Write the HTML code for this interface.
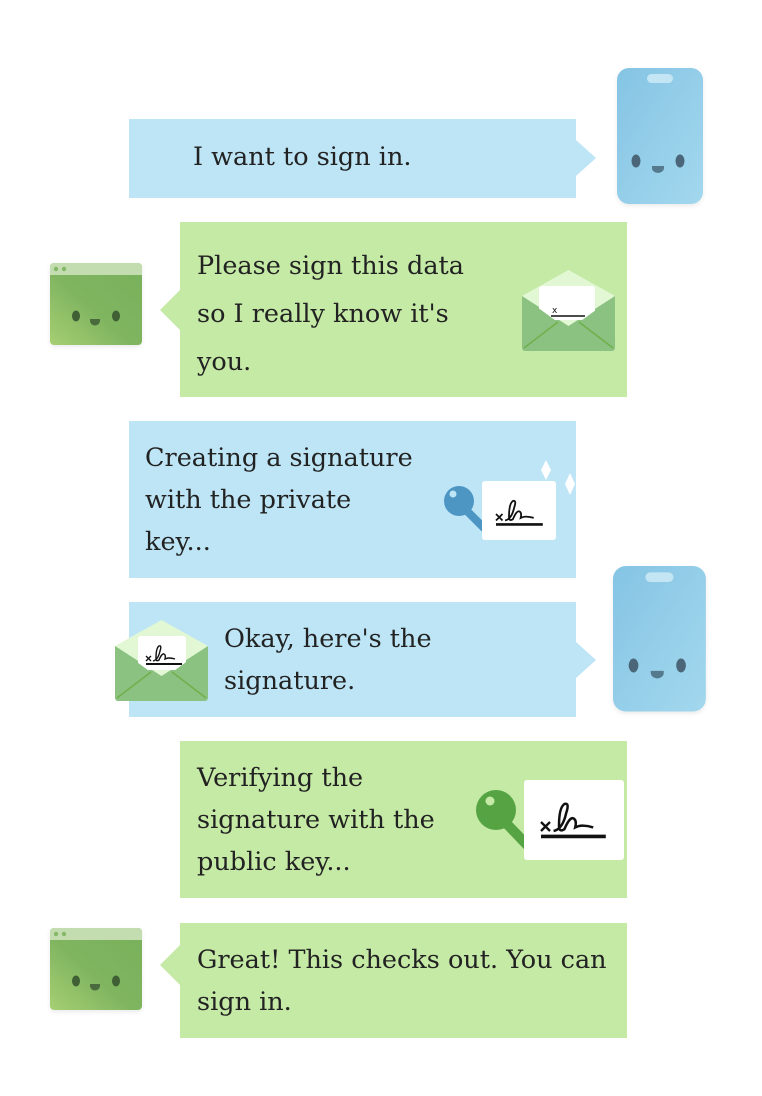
<!DOCTYPE html>
<html><head><meta charset="utf-8"><style>
html,body{margin:0;padding:0;background:#fff;}
body{width:762px;height:1096px;position:relative;overflow:hidden;}
svg{position:absolute;left:0;top:0;}
.t{position:absolute;font-family:"DejaVu Serif","Liberation Serif",serif;font-size:25.5px;color:#222;white-space:nowrap;letter-spacing:0;}
</style></head><body>
<svg width="762" height="1096" viewBox="0 0 762 1096">
<defs>
<linearGradient id="ph" x1="0" y1="0" x2="1" y2="1"><stop offset="0" stop-color="#85c4e4"/><stop offset="1" stop-color="#a3d8ee"/></linearGradient>
<linearGradient id="br" x1="0" y1="1" x2="1" y2="0"><stop offset="0" stop-color="#a6cf72"/><stop offset="0.45" stop-color="#80b560"/><stop offset="1" stop-color="#78b05a"/></linearGradient>
<filter id="sh" x="-20%" y="-20%" width="140%" height="140%"><feDropShadow dx="0" dy="2" stdDeviation="2" flood-color="#000" flood-opacity="0.08"/></filter>
<g id="phone">
<rect x="0" y="0" width="86" height="136" rx="12" fill="url(#ph)" filter="url(#sh)"/>
<rect x="30" y="6" width="26" height="9" rx="4.5" fill="#c4e6f4"/>
<ellipse cx="19" cy="93" rx="4.5" ry="6.5" fill="#4a6678"/>
<ellipse cx="63" cy="93" rx="4.5" ry="6.5" fill="#4a6678"/>
<path d="M35 98 h12 v2 a6 5 0 0 1 -12 0z" fill="#557a8e"/>
</g>
<g id="browser">
<rect x="0" y="0" width="92" height="82" rx="4" fill="url(#br)" filter="url(#sh)"/>
<path d="M4 0 h84 a4 4 0 0 1 4 4 v8 h-92 v-8 a4 4 0 0 1 4 -4z" fill="#c3ddb0"/>
<circle cx="6" cy="6" r="2.2" fill="#84b866"/><circle cx="14" cy="6" r="2.2" fill="#84b866"/>
<ellipse cx="26" cy="53" rx="4" ry="5.5" fill="#3f5f34"/>
<ellipse cx="66" cy="53" rx="4" ry="5.5" fill="#3f5f34"/>
<path d="M40 56 h10 v2 a5 4.5 0 0 1 -10 0z" fill="#4a6b3d"/>
</g>
<g id="sig">
<path d="M0 0 l5 5 M5 0 l-5 5" stroke="#111" stroke-width="1.3"/>
<path d="M7 5 q5 -1 7 -10 q2 -6 -1 -5 q-3 2 -3 12 q0 4 3 2 q3 -7 5 -6 q2 1 1 5 q2 -1 4 -1 q3 0 6 1" fill="none" stroke="#111" stroke-width="1.4"/>
<path d="M0 8 h36" stroke="#111" stroke-width="2"/>
</g>
</defs>

<path d="M129 119 H576 V140 L596 158 L576 176 V198 H129z" fill="#bde5f6"/>
<use href="#phone" x="617" y="68"/>

<path d="M180 222 H627 V397 H180 V330 L160 310 L180 290z" fill="#c5eaa6"/>
<use href="#browser" x="50" y="263"/>
<g transform="translate(522,270)">
<rect x="0" y="26" width="93" height="54" rx="3" fill="#8bc282"/>
<path d="M0 26 L46.5 0 L93 26 L46.5 56z" fill="#e2f8d4"/>
<rect x="17" y="16" width="56" height="34" rx="3" fill="#fff"/>
<text x="30" y="43" font-family="DejaVu Sans,sans-serif" font-size="9" fill="#111">x</text>
<path d="M29 46 h34" stroke="#111" stroke-width="1.6"/>
<path d="M0 26 L46.5 60 L93 26 V78 a3 3 0 0 1 -3 3 H3 a3 3 0 0 1 -3 -3z" fill="#8bc282"/>
<path d="M2 78 L36 52 M91 78 L57 52" stroke="#6fb04a" stroke-width="1.5"/>
</g>

<rect x="129" y="421" width="447" height="157" fill="#bde5f6"/>
<path d="M546 460 l5 10 l-5 10 l-5 -10z" fill="#fff"/>
<path d="M570 473 l5 11 l-5 11 l-5 -11z" fill="#fff"/>
<path d="M466 510 L486 530" stroke="#4d96c4" stroke-width="8" stroke-linecap="round"/>
<circle cx="459" cy="501" r="15" fill="#4d96c4"/>
<circle cx="453" cy="494" r="3.5" fill="#bde5f6"/>
<rect x="482" y="481" width="74" height="59" rx="3" fill="#fff"/>
<g transform="translate(496,514) scale(1.3)"><use href="#sig"/></g>

<path d="M129 602 H576 V642 L596 660 L576 678 V717 H129z" fill="#bde5f6"/>
<use href="#phone" x="613" y="566" transform="translate(613,566) scale(1.08,1.07) translate(-613,-566)"/>
<g transform="translate(115,620)">
<rect x="0" y="26" width="93" height="54" rx="3" fill="#8bc282"/>
<path d="M0 26 L46.5 0 L93 26 L46.5 56z" fill="#e2f8d4"/>
<rect x="23" y="16" width="48" height="34" rx="3" fill="#fff"/>
<g transform="translate(31,36) scale(1)"><use href="#sig"/></g>
<path d="M0 26 L46.5 60 L93 26 V78 a3 3 0 0 1 -3 3 H3 a3 3 0 0 1 -3 -3z" fill="#8bc282"/>
<path d="M2 78 L36 52 M91 78 L57 52" stroke="#6fb04a" stroke-width="1.5"/>
</g>

<rect x="180" y="741" width="447" height="157" fill="#c5eaa6"/>
<path d="M505 822 L528 846" stroke="#56a344" stroke-width="10" stroke-linecap="round"/>
<circle cx="496" cy="810" r="20" fill="#56a344"/>
<circle cx="490" cy="801" r="4.5" fill="#c5eaa6"/>
<rect x="524" y="780" width="100" height="80" rx="3" fill="#fff"/>
<g transform="translate(541,822) scale(1.8)"><use href="#sig"/></g>

<path d="M180 923 H627 V1038 H180 V985 L160 965 L180 945z" fill="#c5eaa6"/>
<use href="#browser" x="50" y="928"/>
</svg>

<div class="t" style="left:193px;top:142px;">I want to sign in.</div>
<div class="t" style="left:197px;top:242px;line-height:48px;">Please sign this data<br>so I really know it's<br>you.</div>
<div class="t" style="left:145px;top:437px;line-height:42px;">Creating a signature<br>with the private<br>key...</div>
<div class="t" style="left:224px;top:618px;line-height:42px;">Okay, here's the<br>signature.</div>
<div class="t" style="left:197px;top:757px;line-height:42px;">Verifying the<br>signature with the<br>public key...</div>
<div class="t" style="left:197px;top:939px;line-height:42px;">Great! This checks out. You can<br>sign in.</div>
</body></html>
